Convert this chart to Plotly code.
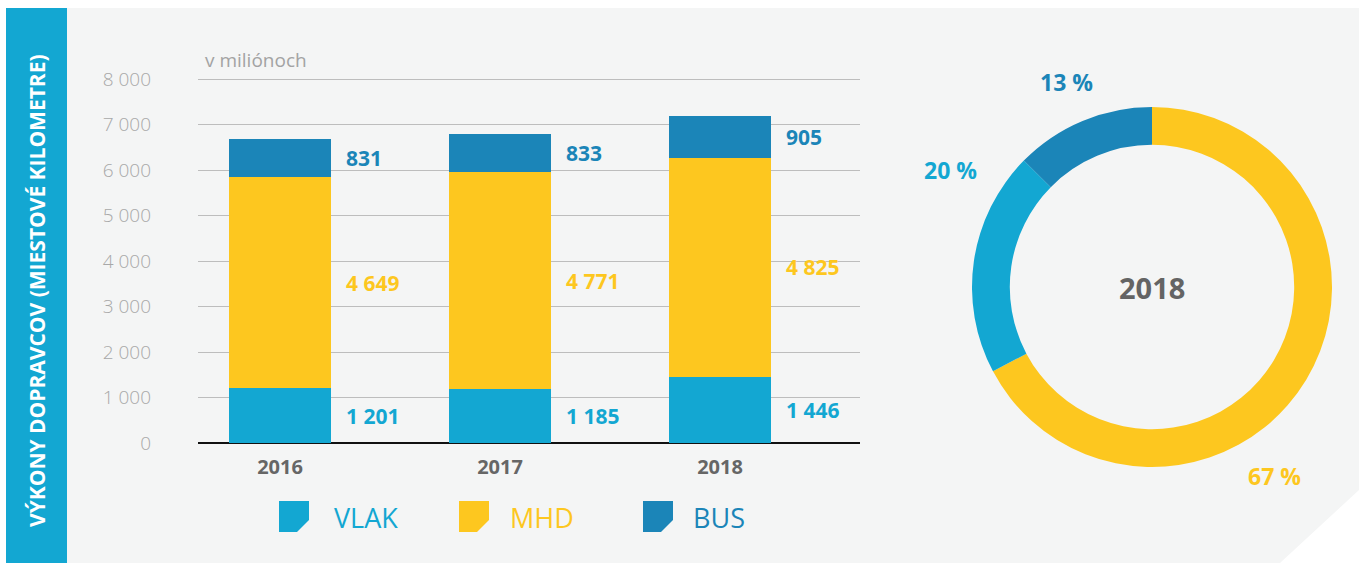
import plotly.graph_objects as go

W, H = 1359, 563

years = ["2016", "2017", "2018"]
series_names = ["VLAK", "MHD", "BUS"]
vlak = [1201, 1185, 1446]
mhd = [4649, 4771, 4825]
bus = [831, 833, 905]
colors = {"VLAK": "#13a7d2", "MHD": "#fdc71f", "BUS": "#1b85b8"}
y_ticks = [0, 1000, 2000, 3000, 4000, 5000, 6000, 7000, 8000]
y_tick_text = ["0", "1 000", "2 000", "3 000", "4 000", "5 000", "6 000", "7 000", "8 000"]
pie_year_index = 2
title_text = "VÝKONY DOPRAVCOV (MIESTOVÉ KILOMETRE)"
unit_text = "v miliónoch"

FONT = "Open Sans"


def px(x):
    return x / W


def py(y):
    return 1 - y / H


def fmt(v):
    return f"{v:,}".replace(",", " ")


series = {"VLAK": vlak, "MHD": mhd, "BUS": bus}
xs = list(range(len(years)))

fig = go.Figure()
for name in series_names:
    fig.add_trace(go.Bar(
        x=xs, y=series[name], name=name, width=0.465,
        marker=dict(color=colors[name], line=dict(width=0)),
        showlegend=False, hoverinfo="y",
    ))

# value labels to the right of each bar segment
annotations = []
for i in xs:
    base = 0
    for name in series_names:
        v = series[name][i]
        annotations.append(dict(
            x=i + 0.29, y=base + v / 2, xref="x", yref="y",
            text=f"<b>{fmt(v)}</b>", showarrow=False, xanchor="left", yanchor="middle",
            font=dict(family=FONT, size=21, color=colors[name]),
        ))
        base += v

# donut
pie_vals = [series["MHD"][pie_year_index], series["VLAK"][pie_year_index], series["BUS"][pie_year_index]]
pie_names = ["MHD", "VLAK", "BUS"]
total = sum(pie_vals)
cx, cy, R = 1152, 287, 180
fig.add_trace(go.Pie(
    values=pie_vals, labels=pie_names, sort=False, direction="clockwise", rotation=0,
    hole=0.79, textinfo="none", showlegend=False,
    marker=dict(colors=[colors[n] for n in pie_names], line=dict(width=0)),
    domain=dict(x=[px(cx - R), px(cx + R)], y=[py(cy + R), py(cy - R)]),
))
pct_pos = {"MHD": (1274, 476), "VLAK": (950, 170), "BUS": (1066, 82)}
for n, v in zip(pie_names, pie_vals):
    x0, y0 = pct_pos[n]
    annotations.append(dict(
        x=px(x0), y=py(y0), xref="paper", yref="paper", showarrow=False,
        text=f"<b>{round(v / total * 100)} %</b>", xanchor="center", yanchor="middle",
        font=dict(family=FONT, size=23, color=colors[n]),
    ))
annotations.append(dict(
    x=px(cx), y=py(cy), xref="paper", yref="paper", showarrow=False,
    text=f"<b>{years[pie_year_index]}</b>", xanchor="center", yanchor="middle",
    font=dict(family=FONT, size=29, color="#646464"),
))

# unit text
annotations.append(dict(
    x=px(203), y=py(60), xref="paper", yref="paper", showarrow=False,
    text=unit_text, xanchor="left", yanchor="middle",
    font=dict(family=FONT, size=19, color="#a3a3a3"),
))

# vertical title
annotations.append(dict(
    x=px(37), y=py(291), xref="paper", yref="paper", showarrow=False,
    text=f"<b>{title_text}</b>", textangle=-90, xanchor="center", yanchor="middle",
    font=dict(family=FONT, size=21, color="#ffffff"),
))

shapes = []
# background panel with cut corner
shapes.append(dict(
    type="path", xref="paper", yref="paper", layer="below",
    path=(f"M {px(6)},{py(8)} L {px(1359)},{py(8)} L {px(1359)},{py(490)} "
          f"L {px(1280)},{py(563)} L {px(6)},{py(563)} Z"),
    fillcolor="#f4f5f5", line=dict(width=0),
))
# left band
shapes.append(dict(
    type="rect", xref="paper", yref="paper", layer="below",
    x0=px(6), x1=px(67), y0=py(563), y1=py(8),
    fillcolor="#13a7d2", line=dict(width=0),
))

# legend with cut-corner squares
legend_pos = [(279, 332), (459, 508), (643, 691)]
for name, (sx, tx) in zip(series_names, legend_pos):
    top, bot, side, cut = 501, 532, 30, 12
    shapes.append(dict(
        type="path", xref="paper", yref="paper",
        path=(f"M {px(sx)},{py(top)} L {px(sx + side)},{py(top)} L {px(sx + side)},{py(bot - cut)} "
              f"L {px(sx + side - cut)},{py(bot)} L {px(sx)},{py(bot)} Z"),
        fillcolor=colors[name], line=dict(width=0),
    ))
    annotations.append(dict(
        x=px(tx), y=py(517), xref="paper", yref="paper", showarrow=False,
        text=name, xanchor="left", yanchor="middle",
        font=dict(family=FONT, size=27, color=colors[name]),
    ))

x_left, x_right = 198, 860
c0, c2 = 280, 720
unit = (c2 - c0) / 2
y0_px, per1000 = 443, (443 - 79) / 8
y_top_val = 8030
y_top_px = y0_px - per1000 * y_top_val / 1000
fig.update_layout(
    width=W, height=H, autosize=False,
    margin=dict(l=0, r=0, t=0, b=0, pad=0, autoexpand=False),
    paper_bgcolor="#ffffff", plot_bgcolor="rgba(0,0,0,0)",
    barmode="stack", bargap=0.5,
    font=dict(family=FONT),
    xaxis=dict(
        domain=[px(x_left), px(x_right)],
        range=[(x_left - c0) / unit, (x_right - c0) / unit],
        tickmode="array", tickvals=xs, ticktext=[f"<b>{y}</b>" for y in years],
        tickfont=dict(family=FONT, size=20, color="#666666"),
        showgrid=False, zeroline=False, showline=False, ticks="", ticklen=0,
        ticklabelstandoff=10, automargin=False,
        fixedrange=True,
    ),
    yaxis=dict(
        domain=[py(y0_px), py(y_top_px)], range=[0, y_top_val],
        tickmode="array", tickvals=y_ticks, ticktext=y_tick_text,
        tickfont=dict(family=FONT, size=19, color="#a8a8a8", weight=300),
        showgrid=True, gridcolor="#bdbdbd", gridwidth=1.2,
        zeroline=True, zerolinecolor="#111111", zerolinewidth=1.5,
        showline=False, ticks="", ticklabelstandoff=46, automargin=False,
        fixedrange=True,
    ),
    shapes=shapes, annotations=annotations,
)

fig.write_html(
    "out.html",
    config={"displayModeBar": False},
    post_script="document.body.style.margin='0px'; document.body.style.overflow='hidden';",
)
